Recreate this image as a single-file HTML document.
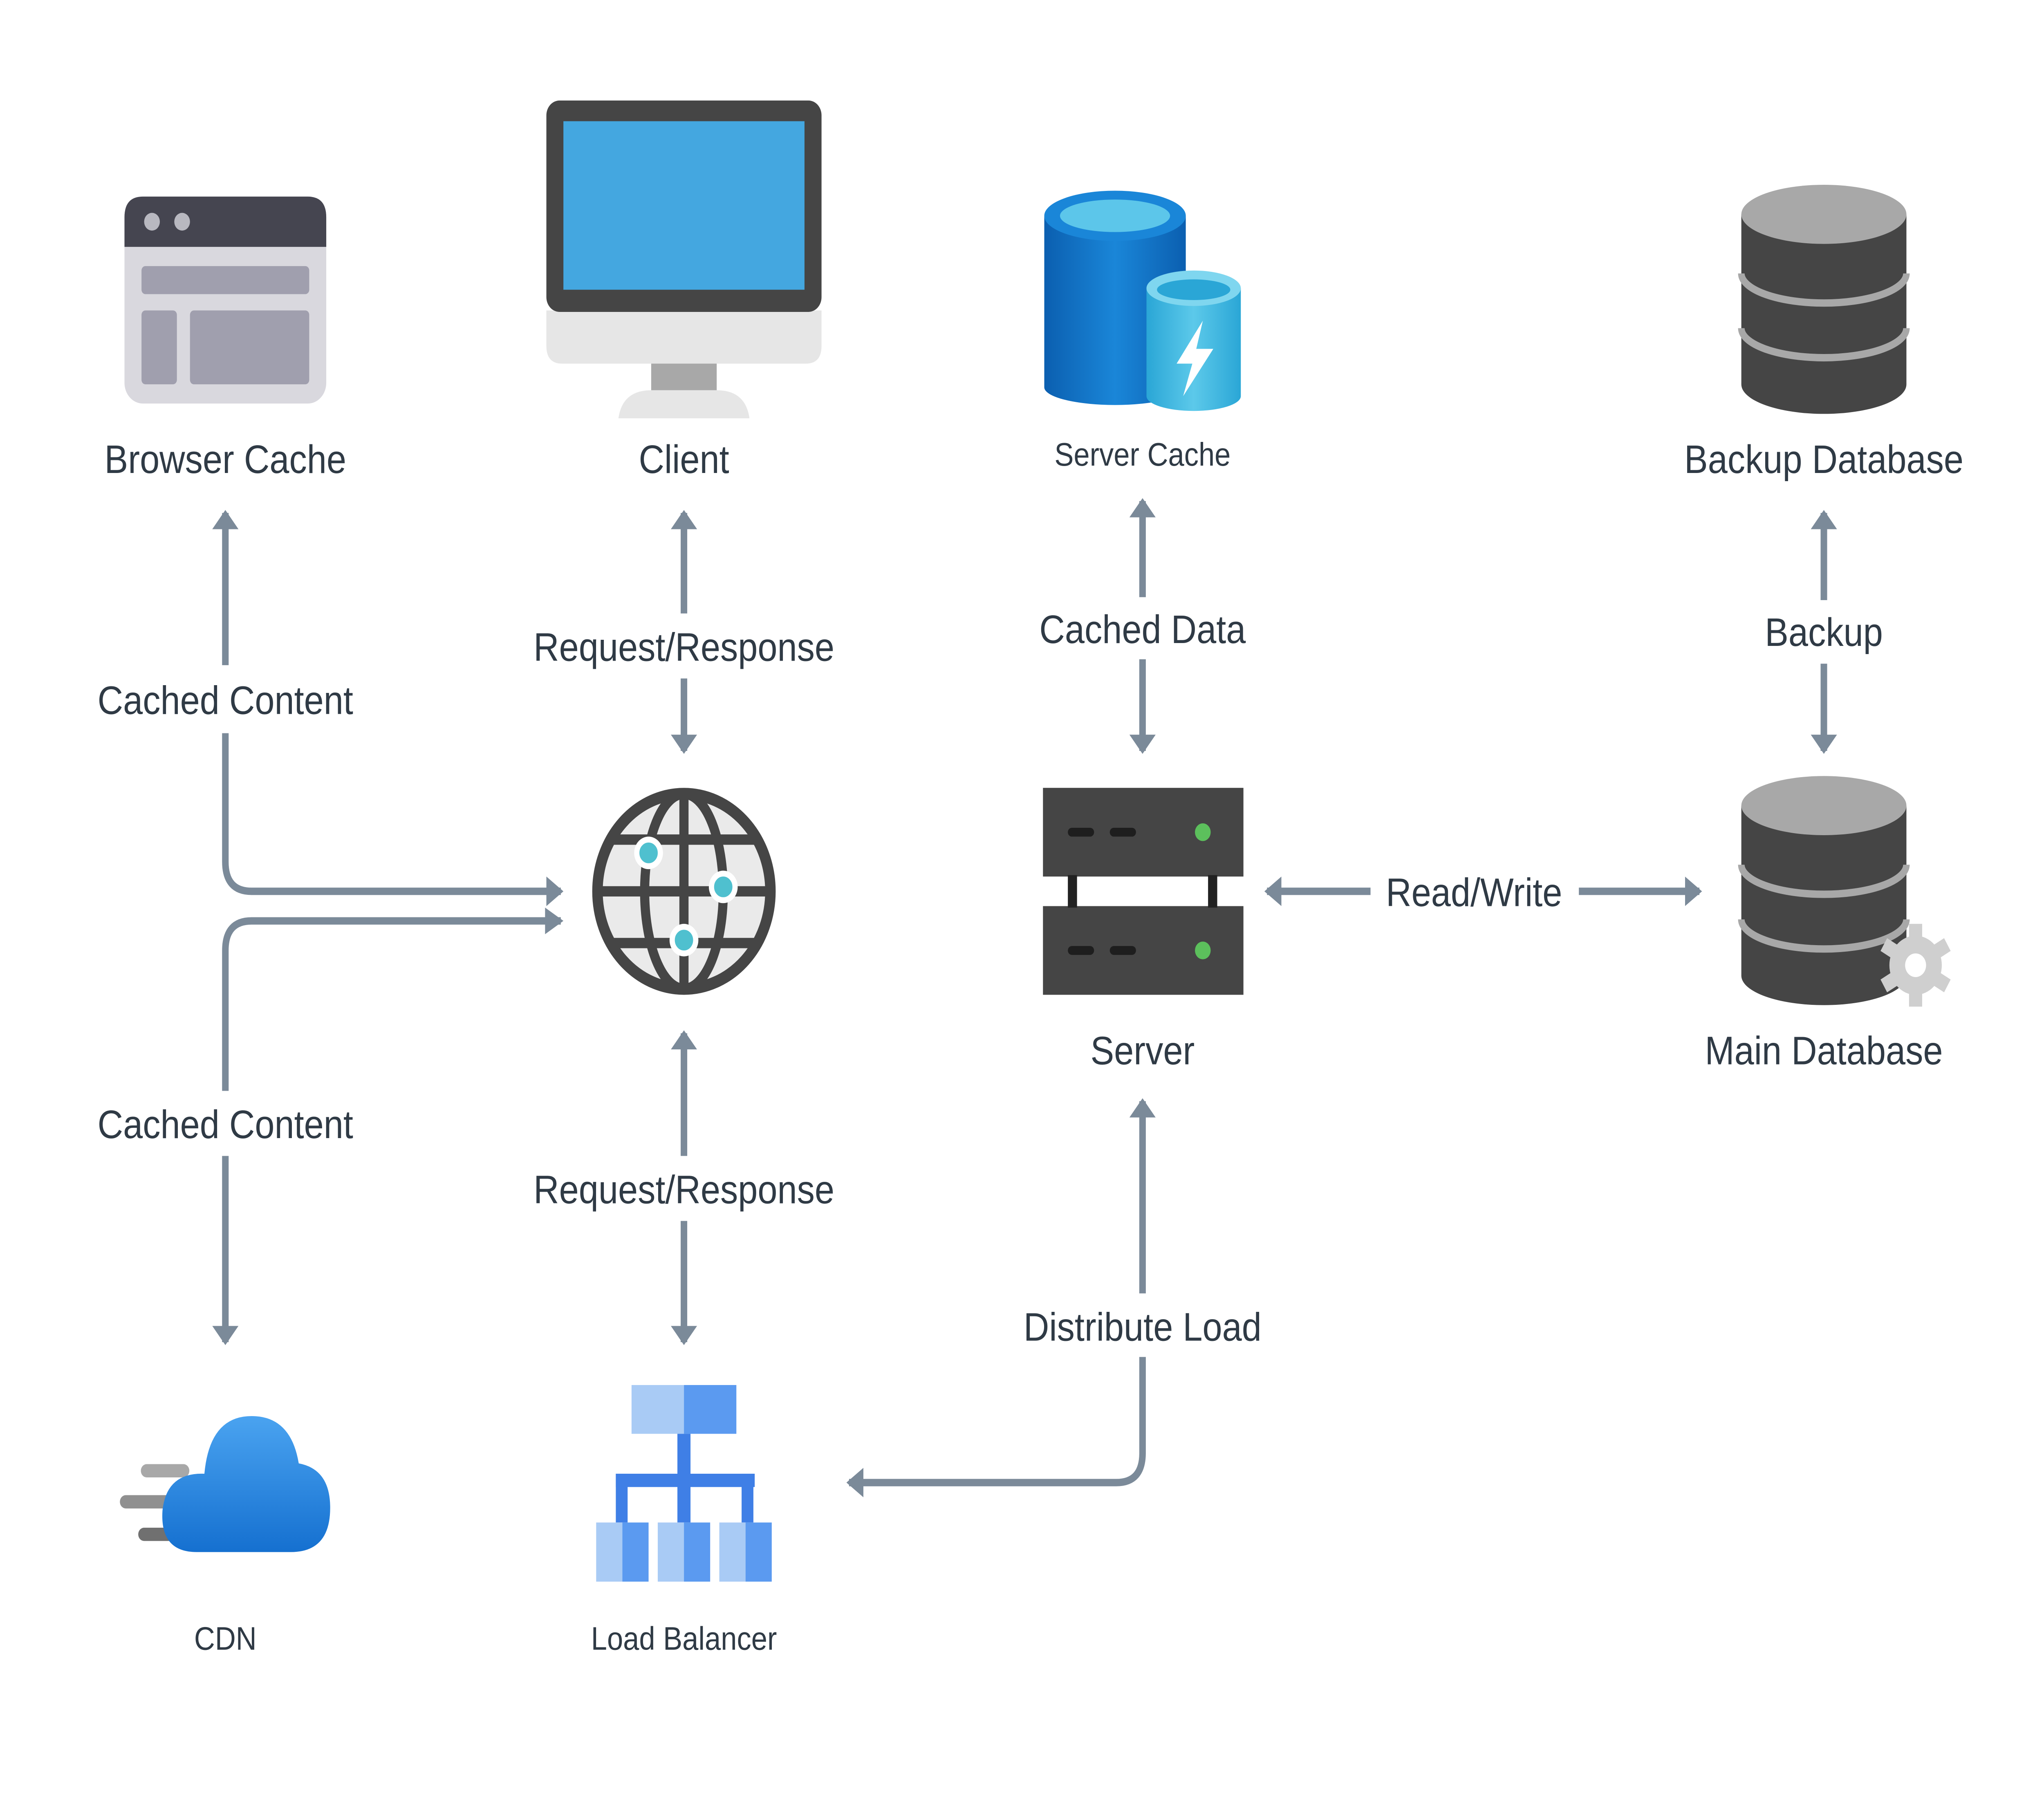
<!DOCTYPE html>
<html><head><meta charset="utf-8">
<style>
html,body{margin:0;padding:0;background:#fff;width:100%;height:100%;overflow:hidden;}
svg{display:block;position:absolute;left:0;top:0;width:100vw;height:100vh;}
text{font-family:"Liberation Sans",sans-serif;fill:#2f3a45;text-anchor:middle;}
</style></head><body>
<svg viewBox="0 0 1560 1213" preserveAspectRatio="none" xmlns="http://www.w3.org/2000/svg">
<defs>
<marker id="ah" markerWidth="4" markerHeight="4" refX="2.2" refY="2" orient="auto" markerUnits="strokeWidth">
<path d="M0,0 L2.6,2 L0,4 Z" fill="#7b8a99"/>
</marker>
<linearGradient id="cyl" x1="0" x2="1"><stop offset="0" stop-color="#0b5fb0"/><stop offset="0.5" stop-color="#1a86d8"/><stop offset="1" stop-color="#0b5fb0"/></linearGradient>
<linearGradient id="cyl2" x1="0" x2="1"><stop offset="0" stop-color="#2aa6d6"/><stop offset="0.5" stop-color="#5cc9ea"/><stop offset="1" stop-color="#2aa6d6"/></linearGradient>
<linearGradient id="cloud" x1="0" y1="0" x2="0" y2="1"><stop offset="0" stop-color="#4aa3f0"/><stop offset="1" stop-color="#1570d0"/></linearGradient>
</defs>
<rect width="1560" height="1213" fill="#fff"/>

<g stroke="#7b8a99" stroke-width="5" fill="none" stroke-linecap="butt">
<line x1="172" y1="450" x2="172" y2="347" marker-end="url(#ah)"/>
<path d="M172 496 V583 Q172 603 192 603 H428" marker-end="url(#ah)"/>
<path d="M428 623 H192 Q172 623 172 643 V738"/>
<line x1="172" y1="782" x2="172" y2="908" marker-end="url(#ah)"/>
<line x1="522" y1="415" x2="522" y2="347" marker-end="url(#ah)"/>
<line x1="522" y1="459" x2="522" y2="508" marker-end="url(#ah)"/>
<line x1="522" y1="782" x2="522" y2="699" marker-end="url(#ah)"/>
<line x1="522" y1="826" x2="522" y2="908" marker-end="url(#ah)"/>
<line x1="872" y1="404" x2="872" y2="339" marker-end="url(#ah)"/>
<line x1="872" y1="446" x2="872" y2="508" marker-end="url(#ah)"/>
<line x1="1392" y1="406" x2="1392" y2="347" marker-end="url(#ah)"/>
<line x1="1392" y1="449" x2="1392" y2="508" marker-end="url(#ah)"/>
<line x1="1046" y1="603" x2="967" y2="603" marker-end="url(#ah)"/>
<line x1="1205" y1="603" x2="1297" y2="603" marker-end="url(#ah)"/>
<line x1="872" y1="875" x2="872" y2="745" marker-end="url(#ah)"/>
<path d="M872 918 V983 Q872 1003 852 1003 H648" marker-end="url(#ah)"/>
</g>
<path d="M416 614 L430 623 L416 632 Z" fill="#7b8a99"/>

<g font-size="27">
<text x="172" y="320">Browser Cache</text>
<text x="522" y="320">Client</text>
<text x="1392" y="320">Backup Database</text>
<text x="172" y="483">Cached Content</text>
<text x="522" y="447">Request/Response</text>
<text x="872" y="435">Cached Data</text>
<text x="1392" y="437">Backup</text>
<text x="1125" y="613">Read/Write</text>
<text x="872" y="720">Server</text>
<text x="1392" y="720">Main Database</text>
<text x="172" y="770">Cached Content</text>
<text x="522" y="814">Request/Response</text>
<text x="872" y="907">Distribute Load</text>
</g>
<g font-size="22">
<text x="872" y="315">Server Cache</text>
<text x="172" y="1116">CDN</text>
<text x="522" y="1116">Load Balancer</text>
</g>

<rect x="95" y="133" width="154" height="140" rx="14" fill="#d9d8de"/>
<path d="M109 133 H235 Q249 133 249 147 V167 H95 V147 Q95 133 109 133Z" fill="#454550"/>
<circle cx="116" cy="150" r="6" fill="#b8b8c0"/><circle cx="139" cy="150" r="6" fill="#b8b8c0"/>
<rect x="108" y="180" width="128" height="19" rx="3" fill="#a09fae"/>
<rect x="108" y="210" width="27" height="50" rx="3" fill="#a09fae"/>
<rect x="145" y="210" width="91" height="50" rx="3" fill="#a09fae"/>

<path d="M417 210 H627 V234 Q627 246 615 246 H429 Q417 246 417 234Z" fill="#e6e6e6"/>
<rect x="417" y="68" width="210" height="143" rx="10" fill="#454545"/>
<rect x="430" y="82" width="184" height="114" fill="#44a7e0"/>
<rect x="497" y="246" width="50" height="18" fill="#a8a8a8"/>
<path d="M472 283 Q475 264 497 264 H547 Q569 264 572 283Z" fill="#e6e6e6"/>

<path d="M797 146 V262 A54 12 0 0 0 905 262 V146Z" fill="url(#cyl)"/>
<ellipse cx="851" cy="146" rx="54" ry="17" fill="#1a86d8"/>
<ellipse cx="851" cy="146" rx="42" ry="11" fill="#5cc6ea"/>
<path d="M875 195 V268 A36 10 0 0 0 947 268 V195Z" fill="url(#cyl2)"/>
<ellipse cx="911" cy="195" rx="36" ry="12" fill="#7fd6ef"/>
<ellipse cx="911" cy="196" rx="28" ry="7" fill="#2aa6d6"/>
<path d="M918 217 L898 246 H910 L903 268 L926 236 H913Z" fill="#fff"/>

<g id="db">
<path d="M1329 145 V260 A63 20 0 0 0 1455 260 V145Z" fill="#454545"/>
<ellipse cx="1392" cy="145" rx="63" ry="20" fill="#a8a8a8"/>
<path d="M1329 185 A63 20 0 0 0 1455 185" stroke="#a8a8a8" stroke-width="5" fill="none"/>
<path d="M1329 222 A63 20 0 0 0 1455 222" stroke="#a8a8a8" stroke-width="5" fill="none"/>
</g>
<use href="#db" y="400"/>
<g transform="translate(1462,653)">
<g fill="#cfcfcf">
<circle r="20"/>
<rect x="-5" y="-28" width="10" height="56"/>
<rect x="-5" y="-28" width="10" height="56" transform="rotate(60)"/>
<rect x="-5" y="-28" width="10" height="56" transform="rotate(120)"/>
</g>
<circle r="8" fill="#fff"/>
</g>

<circle cx="522" cy="603" r="66" fill="#eaeaea" stroke="#454545" stroke-width="8"/>
<g stroke="#454545" stroke-width="7" fill="none">
<ellipse cx="522" cy="603" rx="30" ry="66"/>
<line x1="522" y1="537" x2="522" y2="669"/>
<line x1="456" y1="603" x2="588" y2="603"/>
<path d="M466 568 H578"/><path d="M466 638 H578"/>
</g>
<g fill="#4fc0cf" stroke="#fff" stroke-width="4">
<circle cx="495" cy="577" r="9"/><circle cx="552" cy="600" r="9"/><circle cx="522" cy="636" r="9"/>
</g>

<rect x="796" y="533" width="153" height="60" fill="#454545"/>
<rect x="796" y="613" width="153" height="60" fill="#454545"/>
<rect x="815" y="592" width="7" height="22" fill="#222"/><rect x="922" y="592" width="7" height="22" fill="#222"/>
<g stroke="#1e1e1e" stroke-width="6" stroke-linecap="round">
<line x1="818" y1="563" x2="832" y2="563"/><line x1="850" y1="563" x2="864" y2="563"/>
<line x1="818" y1="643" x2="832" y2="643"/><line x1="850" y1="643" x2="864" y2="643"/>
</g>
<circle cx="918" cy="563" r="6" fill="#5cc05c"/><circle cx="918" cy="643" r="6" fill="#5cc05c"/>

<g stroke-linecap="round" stroke-width="9">
<line x1="112" y1="995" x2="140" y2="995" stroke="#a8a8a8"/>
<line x1="96" y1="1016" x2="135" y2="1016" stroke="#909090"/>
<line x1="110" y1="1038" x2="140" y2="1038" stroke="#707070"/>
</g>
<path d="M150 1050 Q122 1050 124 1022 Q127 996 156 997 Q160 958 192 958 Q222 958 228 990 Q252 994 252 1020 Q252 1050 222 1050Z" fill="url(#cloud)"/>

<rect x="482" y="937" width="40" height="33" fill="#a9cbf5"/>
<rect x="522" y="937" width="40" height="33" fill="#5b9af0"/>
<g fill="#3f7fe6">
<rect x="517" y="970" width="10" height="28"/>
<rect x="470" y="997" width="106" height="9"/>
<rect x="470" y="997" width="9" height="33"/><rect x="517" y="997" width="10" height="33"/><rect x="566" y="997" width="9" height="33"/>
</g>
<rect x="455" y="1030" width="20" height="40" fill="#a9cbf5"/><rect x="475" y="1030" width="20" height="40" fill="#5b9af0"/>
<rect x="502" y="1030" width="20" height="40" fill="#a9cbf5"/><rect x="522" y="1030" width="20" height="40" fill="#5b9af0"/>
<rect x="549" y="1030" width="20" height="40" fill="#a9cbf5"/><rect x="569" y="1030" width="20" height="40" fill="#5b9af0"/>
</svg>
</body></html>
